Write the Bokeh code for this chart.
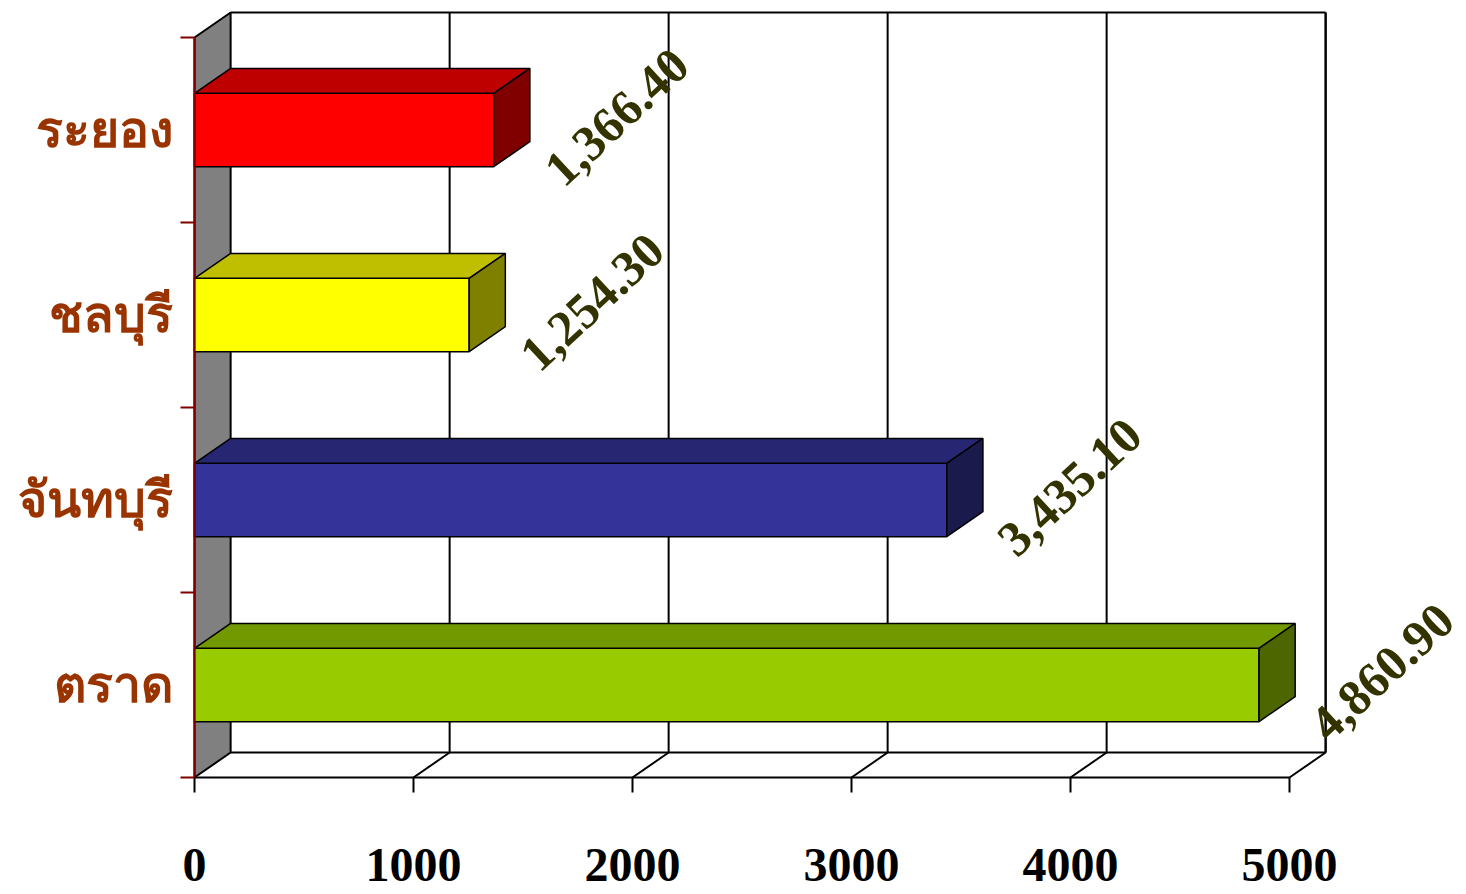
import math
from bokeh.plotting import figure
from bokeh.models import FixedTicker, Range1d
from bokeh.embed import file_html
from bokeh.resources import INLINE
from bokeh.core.properties import value

# ---- data ----
provinces = ["ตราด", "จันทบุรี", "ชลบุรี", "ระยอง"]
amounts = [4860.90, 3435.10, 1254.30, 1366.40]
front_colors = ["#99CC00", "#333399", "#FFFF00", "#FF0000"]
top_colors = ["#739900", "#262673", "#BFBF00", "#BF0000"]
side_colors = ["#4D6600", "#1A1A4D", "#808000", "#800000"]
x_ticks = [0, 1000, 2000, 3000, 4000, 5000]

# ---- 3D geometry (depth in data units) ----
DX = 165.0
DY = 0.135
HALF = 0.198
n = len(provinces)
xmax = x_ticks[-1]
PX_PER_X = 0.219   # screen px per value unit
PX_PER_Y = 185.0   # screen px per category band

p = figure(width=1466, height=894,
           x_range=Range1d(-194 / PX_PER_X, 1272 / PX_PER_X),
           y_range=Range1d(-117 / PX_PER_Y, 777 / PX_PER_Y),
           output_backend="svg", toolbar_location=None,
           min_border_left=0, min_border_right=0,
           min_border_top=0, min_border_bottom=0)
p.outline_line_color = None
p.grid.visible = False
p.background_fill_color = "white"

# left side wall
p.patch([0, DX, DX, 0], [0, DY, n + DY, n], fill_color="#808080",
        line_color="black", line_width=2)

# back wall and floor lines
p.segment(x0=[DX, xmax + DX, DX], y0=[n + DY, DY, DY],
          x1=[xmax + DX, xmax + DX, xmax + DX], y1=[n + DY, n + DY, DY],
          line_color="black", line_width=2)
inner = [t for t in x_ticks if t > 0]
p.segment(x0=[t + DX for t in inner], y0=[DY] * len(inner),
          x1=[t + DX for t in inner], y1=[n + DY] * len(inner),
          line_color="black", line_width=2)
p.segment(x0=inner, y0=[0] * len(inner),
          x1=[t + DX for t in inner], y1=[DY] * len(inner),
          line_color="black", line_width=2)

# bars
centers = [i + 0.5 for i in range(n)]
p.quad(left=[0] * n, right=amounts,
       bottom=[c - HALF for c in centers], top=[c + HALF for c in centers],
       fill_color=front_colors, line_color="black", line_width=1.5)
p.patches(xs=[[0, DX, v + DX, v] for v in amounts],
          ys=[[c + HALF, c + HALF + DY, c + HALF + DY, c + HALF] for c in centers],
          fill_color=top_colors, line_color="black", line_width=1.5)
p.patches(xs=[[v, v, v + DX, v + DX] for v in amounts],
          ys=[[c - HALF, c + HALF, c + HALF + DY, c - HALF + DY] for c in centers],
          fill_color=side_colors, line_color="black", line_width=1.5)

# value labels
labels = [f"{v:,.2f}" for v in amounts]
p.text(x=amounts, y=centers, text=labels, angle=math.radians(43),
       x_offset=123, y_offset=-13, text_align="center", text_baseline="middle",
       text_font=value("Liberation Serif"), text_font_style="bold",
       text_font_size="50px", text_color="#333300")

# x axis (fixed at the front floor edge)
xa = p.xaxis[0]
xa.fixed_location = 0
xa.ticker = FixedTicker(ticks=x_ticks)
xa.bounds = (0, xmax)
xa.axis_line_color = "black"
xa.axis_line_width = 2
xa.major_tick_out = 15
xa.major_tick_in = 0
xa.major_tick_line_width = 2
xa.minor_tick_out = 0
xa.minor_tick_in = 0
xa.major_label_text_font = "Liberation Serif"
xa.major_label_text_font_style = "bold"
xa.major_label_text_font_size = "48px"
xa.major_label_text_color = "black"
xa.major_label_standoff = 56

# y axis (fixed at the front left edge)
ya = p.yaxis[0]
ya.fixed_location = 0
ya.ticker = FixedTicker(ticks=centers, minor_ticks=list(range(n + 1)))
ya.bounds = (0, n)
ya.axis_line_color = "#800000"
ya.axis_line_width = 2
ya.major_tick_out = 0
ya.major_tick_in = 0
ya.minor_tick_out = 14
ya.minor_tick_in = 0
ya.minor_tick_line_color = "#800000"
ya.minor_tick_line_width = 2
ya.major_label_overrides = {c: name for c, name in zip(centers, provinces)}
ya.major_label_text_font = "Liberation Serif"
ya.major_label_text_font_style = "bold"
ya.major_label_text_font_size = "50px"
ya.major_label_text_color = "#993300"
ya.major_label_standoff = 8

open("out.html", "w").write(file_html(p, INLINE))
